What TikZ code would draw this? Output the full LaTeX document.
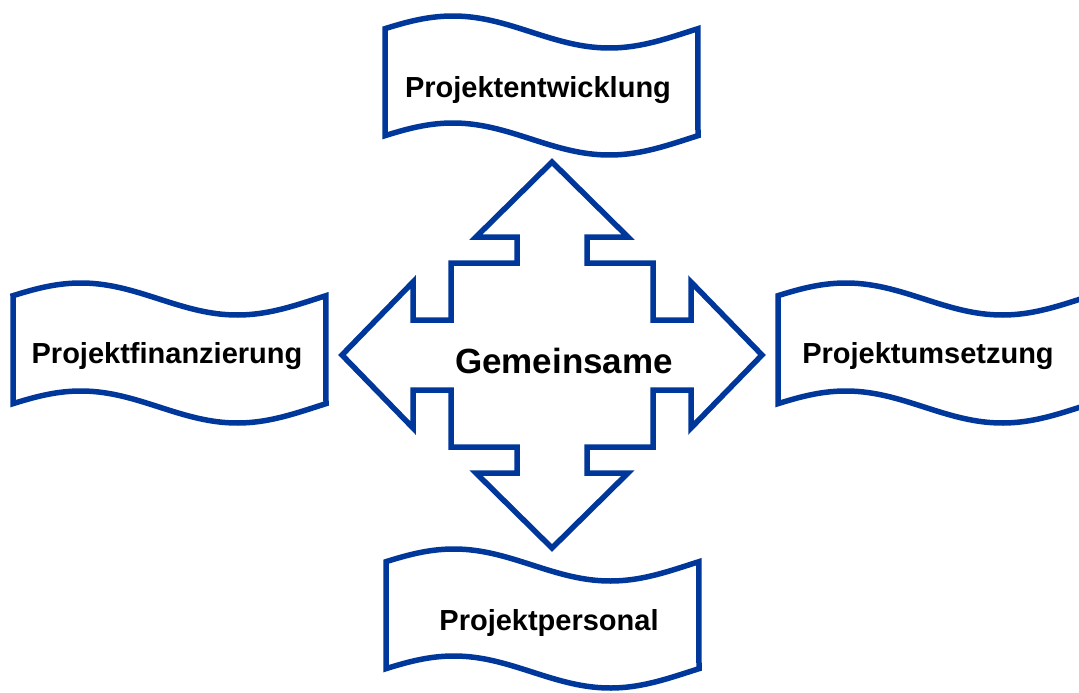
\documentclass[tikz,border=0pt]{standalone}
\usepackage{fontspec}
\setmainfont{Liberation Sans}
\definecolor{diagblue}{RGB}{0,55,154}
\tikzset{
  outline/.style={draw=diagblue, line width=5.5pt, line join=miter, fill=white},
  label/.style={font=\fontsize{29}{34}\selectfont\bfseries, text=black, anchor=base, inner sep=0pt},
  biglabel/.style={font=\fontsize{35}{40}\selectfont\bfseries, text=black, anchor=base, inner sep=0pt}
}
\newcommand\wavebanner[3]{%
  \draw[outline] plot[domain=0:1,samples=90] ({#1+313*\x},{#2-16*sin(360*\x+12)})
    -- plot[domain=1:0,samples=90] ({#1+313*\x},{#3-16*sin(360*\x+12)}) -- cycle;}
\begin{document}
\begin{tikzpicture}[x=1pt,y=-1pt]
\useasboundingbox (0,0) rectangle (1079,693);
\clip (0,0) rectangle (1079,693);
% banners
\wavebanner{385}{32}{139}
\wavebanner{13}{299}{407}
\wavebanner{778}{299}{407}
\wavebanner{386}{565}{672}
% quad arrow
\begin{scope}[shift={(552,355)}]
\draw[outline] (0,-193) -- (76,-118) -- (35,-118) -- (35,-92) -- (101,-92) -- (101,-35)
  -- (139,-35) -- (139,-73) -- (210,0) -- (139,73) -- (139,35) -- (101,35) -- (101,92)
  -- (35,92) -- (35,118) -- (76,118) -- (0,193) -- (-76,118) -- (-35,118) -- (-35,92)
  -- (-101,92) -- (-101,35) -- (-139,35) -- (-139,73) -- (-210,0) -- (-139,-73)
  -- (-139,-35) -- (-101,-35) -- (-101,-92) -- (-35,-92) -- (-35,-118) -- (-76,-118) -- cycle;
\end{scope}
% labels
\node[label] (entw) at (538,97) {Projektentwicklung};
\node[label] (fin) at (167,363) {Projektfinanzierung};
\node[label] (ums) at (928,363) {Projektumsetzung};
\node[label] (pers) at (549,630) {Projektpersonal};
\node[biglabel] (gem) at (564,373) {Gemeinsame};
\end{tikzpicture}
\end{document}
